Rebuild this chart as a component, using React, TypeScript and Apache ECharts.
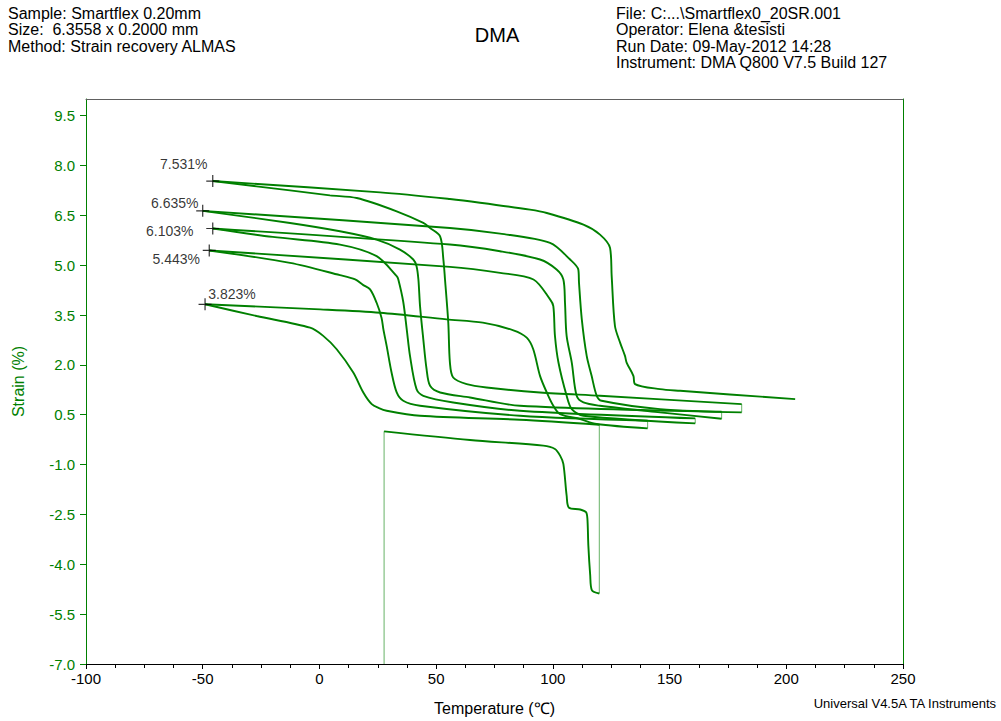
import React, { useEffect, useRef } from "react";
import * as echarts from "echarts";

const FONT = '"Liberation Sans", Arial, Helvetica, sans-serif';

// Axis tick values
const xTicks = [-100, -50, 0, 50, 100, 150, 200, 250];
const yTicks = [-7.0, -5.5, -4.0, -2.5, -1.0, 0.5, 2.0, 3.5, 5.0, 6.5, 8.0, 9.5];

// Run data (Temperature °C, Strain %) in chronological order
const startPoint = [27.7, -7.0];
const firstHeating = [
  [27.7, 0.0], [64.5, -0.26], [95.9, -0.43], [100.9, -0.53], [103.1, -0.73], [104.5, -0.98],
  [105.9, -1.93], [106.9, -2.3], [111.7, -2.35], [114.2, -2.43], [114.8, -2.63], [115.2, -3.43],
  [116.0, -4.33], [116.7, -4.78], [119.9, -4.88],
];
const cool1 = [
  [119.9, 0.2], [85.9, 0.35], [43.1, 0.47], [28.8, 0.62], [25.5, 0.7], [22.4, 0.82], [18.8, 1.17],
  [14.5, 1.77], [7.4, 2.47], [1.5, 2.88], [-4.0, 3.12], [-26.9, 3.47], [-49.0, 3.823],
];
const heat1 = [
  [-49.0, 3.823], [0.3, 3.67], [26.0, 3.57], [54.5, 3.37], [70.0, 3.27], [83.1, 3.04], [88.8, 2.82],
  [91.6, 2.47], [94.5, 1.67], [97.4, 1.17], [100.2, 0.77], [103.1, 0.52], [111.7, 0.37],
  [118.8, 0.22], [140.6, 0.09],
];
const cool2 = [
  [140.6, 0.32], [85.9, 0.47], [43.1, 0.77], [35.9, 0.92], [33.1, 1.17], [30.9, 1.77], [28.8, 2.57],
  [27.4, 3.07], [26.6, 3.42], [24.5, 3.87], [21.7, 4.27], [18.8, 4.4], [15.3, 4.57], [8.8, 4.7],
  [-12.6, 5.07], [-47.2, 5.443],
];
const heat2 = [
  [-47.2, 5.443], [55.9, 4.95], [77.4, 4.77], [91.7, 4.57], [98.8, 3.97], [100.2, 3.77],
  [100.9, 2.87], [102.4, 2.07], [105.9, 1.07], [108.1, 0.67], [113.1, 0.47], [161.0, 0.24],
];
const cool3 = [
  [161.0, 0.39], [85.9, 0.62], [57.3, 0.87], [44.5, 1.07], [41.6, 1.27], [38.8, 2.27], [37.4, 3.07],
  [35.9, 3.9], [33.8, 4.57], [33.1, 4.67], [24.5, 5.27], [8.8, 5.62], [-20.0, 5.85], [-45.7, 6.103],
];
const heat3 = [
  [-45.7, 6.103], [55.9, 5.62], [77.4, 5.42], [94.5, 5.17], [101.6, 4.87], [104.5, 4.57],
  [105.2, 3.87], [105.9, 2.87], [108.1, 2.07], [110.2, 1.07], [113.1, 0.87], [120.2, 0.77],
  [145.9, 0.57], [172.3, 0.38],
];
const cool4 = [
  [172.3, 0.59], [85.9, 0.77], [64.5, 1.02], [51.7, 1.17], [47.4, 1.37], [45.9, 1.87], [44.5, 2.77],
  [43.1, 3.77], [42.4, 4.57], [41.6, 4.97], [40.2, 5.17], [34.5, 5.47], [24.5, 5.77], [8.8, 6.02],
  [-12.6, 6.27], [-50.0, 6.635],
];
const heat4 = [
  [-50.0, 6.635], [55.9, 6.12], [77.4, 5.95], [98.8, 5.67], [107.4, 5.17], [110.9, 4.87],
  [111.2, 4.47], [112.4, 3.37], [114.5, 2.27], [116.6, 1.67], [118.8, 1.07], [120.9, 0.92],
  [145.9, 0.67], [180.9, 0.57],
];
const cool5 = [
  [180.9, 0.82], [120.2, 1.07], [94.5, 1.17], [71.6, 1.32], [63.1, 1.42], [57.3, 1.62], [55.9, 2.07],
  [55.2, 3.27], [53.8, 4.57], [53.1, 5.17], [51.7, 5.87], [47.4, 6.12], [44.5, 6.27], [33.1, 6.62],
  [16.0, 7.02], [4.5, 7.1], [-12.6, 7.25], [-45.7, 7.531],
];
const heat5 = [
  [-45.7, 7.531], [26.0, 7.19], [55.9, 6.99], [68.8, 6.88], [90.2, 6.67], [97.4, 6.57],
  [113.1, 6.22], [120.2, 5.92], [124.5, 5.52], [125.2, 4.67], [126.6, 3.17], [128.8, 2.67],
  [130.9, 2.27], [131.6, 2.07], [134.5, 1.67], [135.2, 1.42], [145.9, 1.27], [154.5, 1.22],
  [203.8, 0.97],
];

// Marked points (start of each heating)
const markerTemps = [-49.0, -47.2, -45.7, -50.0, -45.7];
const markerStrains = [3.823, 5.443, 6.103, 6.635, 7.531];

// label placement (style)
const labelOffsets = [[27, -10], [-33, 9], [-43, 2], [-28, -8], [-29, -17]];

const headerLeft = ["Sample: Smartflex 0.20mm", "Size:  6.3558 x 0.2000 mm", "Method: Strain recovery ALMAS"];
const headerRight = [
  "File: C:...\\Smartflex0_20SR.001",
  "Operator: Elena &tesisti",
  "Run Date: 09-May-2012 14:28",
  "Instrument: DMA Q800 V7.5 Build 127",
];

const GREEN = "#008000";

export default function App() {
  const ref = useRef<HTMLDivElement>(null);
  useEffect(() => {
    if (!ref.current) return;
    const chart = echarts.init(ref.current, undefined, { renderer: "svg" });
    const segments = [firstHeating, cool1, heat1, cool2, heat2, cool3, heat3, cool4, heat4, cool5, heat5];
    const jumps: number[][][] = [[startPoint, segments[0][0]]];
    for (let i = 0; i < segments.length - 1; i++) {
      const a = segments[i][segments[i].length - 1];
      const b = segments[i + 1][0];
      if (a[0] !== b[0] || a[1] !== b[1]) jumps.push([a, b]);
    }
    const series: any[] = [];
    segments.forEach((seg) => {
      series.push({
        type: "line",
        data: seg,
        showSymbol: false,
        symbol: "none",
        smooth: 0.3,
        clip: true,
        lineStyle: { color: GREEN, width: 1.9 },
        z: 3,
      });
    });
    jumps.forEach((j) => {
      series.push({
        type: "line",
        data: j,
        showSymbol: false,
        symbol: "none",
        clip: true,
        lineStyle: { color: GREEN, width: 1, opacity: 0.6 },
        z: 2,
      });
    });
    series.push({
      type: "scatter",
      symbol: "path://M0,5.4H13V6.6H0Z M5.9,0H7.1V12H5.9Z",
      symbolSize: [13, 12],
      itemStyle: { color: "#000" },
      z: 5,
      data: markerTemps.map((t, i) => ({
        value: [t, markerStrains[i]],
        label: {
          show: true,
          position: "inside",
          offset: labelOffsets[i],
          formatter: markerStrains[i].toFixed(3) + "%",
          color: "#000",
          fontSize: 14,
          fontFamily: FONT,
        },
      })),
    });

    const option: any = {
      animation: false,
      backgroundColor: "#fff",
      grid: { left: 86, right: 98, top: 99, bottom: 55 },
      xAxis: [
        {
          type: "value",
          min: xTicks[0],
          max: xTicks[xTicks.length - 1],
          interval: 50,
          position: "bottom",
          axisLine: { onZero: false, lineStyle: { color: "#000", width: 1 } },
          axisTick: { show: true, length: 5, lineStyle: { color: "#000" } },
          minorTick: { show: true, splitNumber: 4, length: 4, lineStyle: { color: "#000" } },
          splitLine: { show: false },
          minorSplitLine: { show: false },
          axisLabel: { color: "#000", fontSize: 15, fontFamily: FONT, margin: 7 },
          name: "Temperature (℃)",
          nameLocation: "middle",
          nameGap: 36,
          nameTextStyle: { color: "#000", fontSize: 16, fontFamily: FONT },
        },
        {
          type: "value",
          min: xTicks[0],
          max: xTicks[xTicks.length - 1],
          position: "top",
          axisLine: { onZero: false, lineStyle: { color: "#606060", width: 1 } },
          axisTick: { show: false },
          axisLabel: { show: false },
          splitLine: { show: false },
        },
      ],
      yAxis: [
        {
          type: "value",
          min: yTicks[0],
          max: 10,
          position: "left",
          axisLine: { onZero: false, lineStyle: { color: GREEN, width: 1 } },
          axisTick: { show: true, customValues: yTicks, length: 6, lineStyle: { color: GREEN, width: 1 } },
          axisLabel: {
            customValues: yTicks,
            formatter: (v: number) => v.toFixed(1),
            color: GREEN,
            fontSize: 15,
            fontFamily: FONT,
            margin: 11,
          },
          splitLine: { show: false },
          name: "Strain (%)",
          nameLocation: "middle",
          nameGap: 60,
          nameTextStyle: { color: GREEN, fontSize: 16, fontFamily: FONT },
        },
        {
          type: "value",
          min: yTicks[0],
          max: 10,
          position: "right",
          axisLine: { onZero: false, lineStyle: { color: GREEN, width: 1 } },
          axisTick: { show: false },
          axisLabel: { show: false },
          splitLine: { show: false },
        },
      ],
      graphic: [
        {
          type: "text",
          x: 8,
          y: 5,
          style: { text: headerLeft.join("\n"), font: `16px ${FONT}`, lineHeight: 16.5, fill: "#000", verticalAlign: "top" },
        },
        {
          type: "text",
          x: 616,
          y: 5,
          style: { text: headerRight.join("\n"), font: `16px ${FONT}`, lineHeight: 16.5, fill: "#000", verticalAlign: "top" },
        },
        {
          type: "text",
          x: 497,
          y: 35,
          style: { text: "DMA", font: `20px ${FONT}`, fill: "#000", align: "center", verticalAlign: "middle" },
        },
        {
          type: "text",
          x: 996,
          y: 703,
          style: {
            text: "Universal V4.5A TA Instruments",
            font: `13px ${FONT}`,
            fill: "#000",
            align: "right",
            verticalAlign: "middle",
          },
        },
      ],
      series,
    };
    chart.setOption(option);
    return () => chart.dispose();
  }, []);
  return (
    <div
      ref={ref}
      style={{ position: "absolute", left: 0, top: 0, width: 1001, height: 721, background: "#fff" }}
    />
  );
}
